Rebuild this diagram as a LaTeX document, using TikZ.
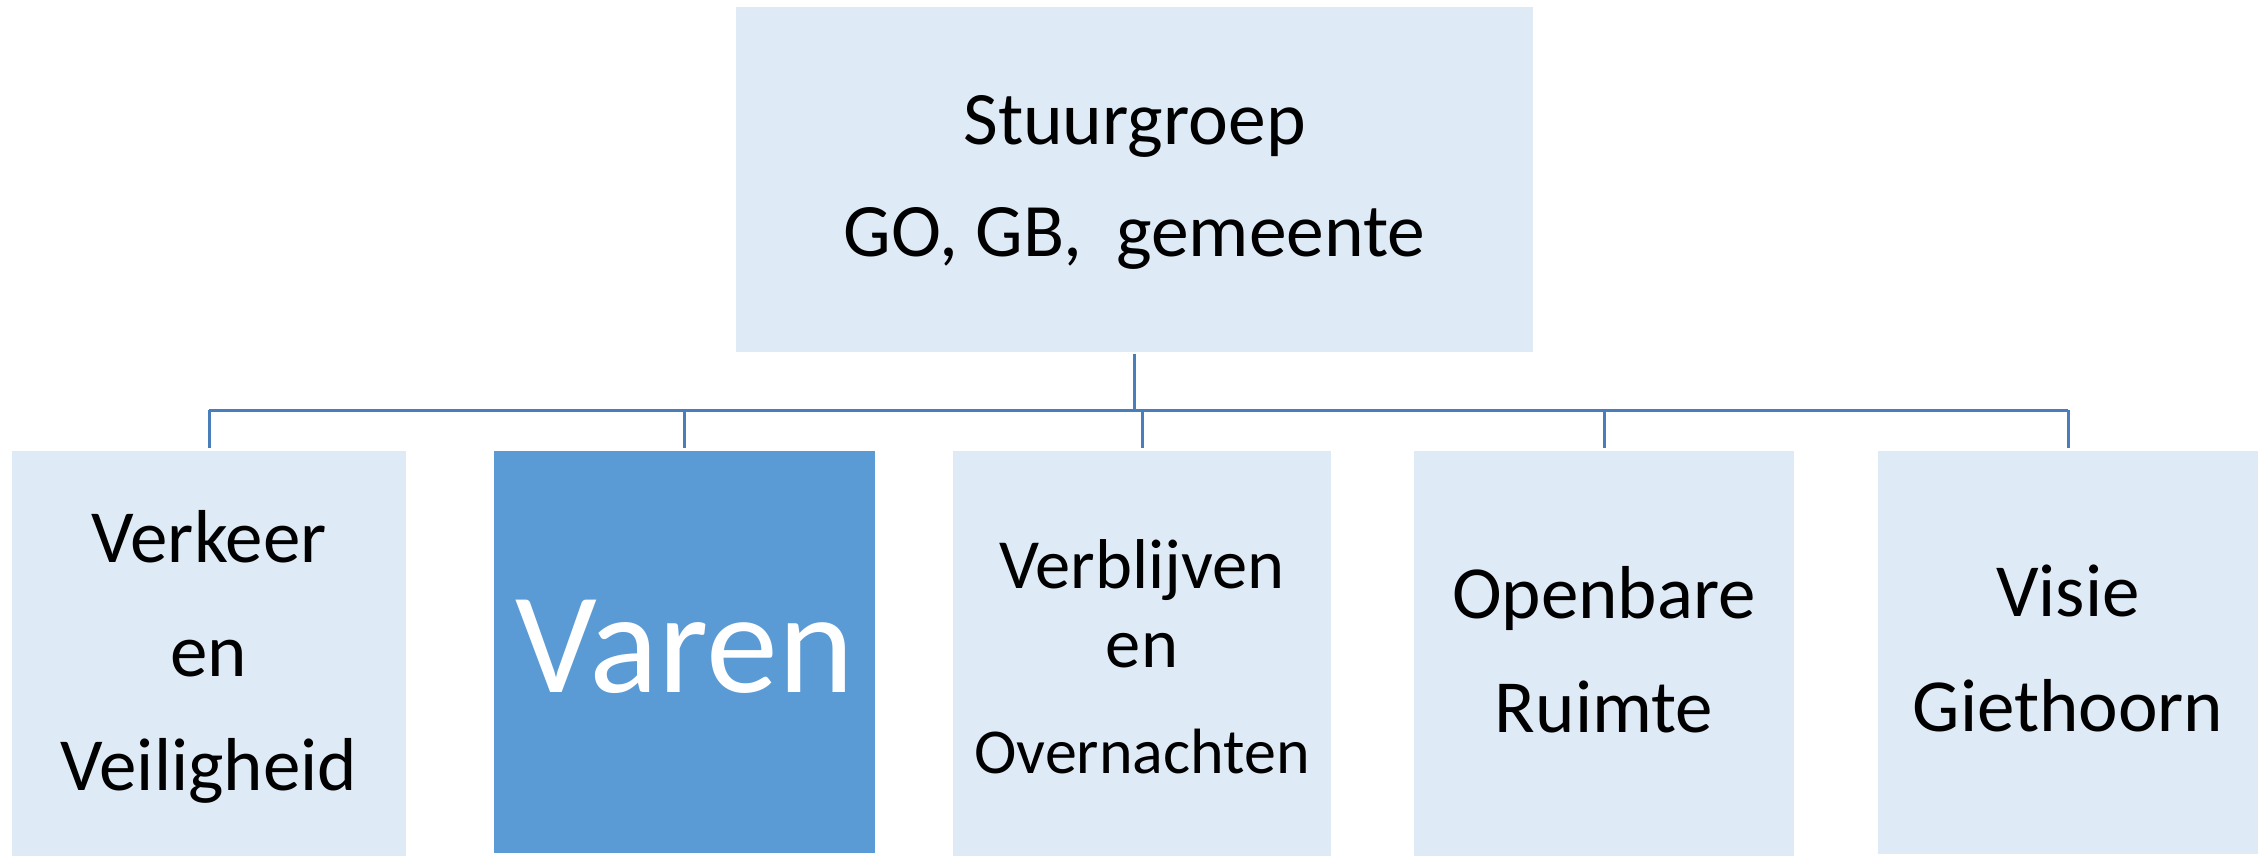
\documentclass[tikz,border=0pt]{standalone}
\usepackage{fontspec}
\setmainfont{Carlito}
\definecolor{lightbox}{HTML}{DEEAF6}
\definecolor{darkbox}{HTML}{5B9BD5}
\definecolor{connline}{HTML}{4A7EBB}
\tikzset{
  box/.style={rectangle, draw=none, inner sep=0pt, outer sep=0pt},
  lightfill/.style={box, fill=lightbox},
  darkfill/.style={box, fill=darkbox},
  conn/.style={draw=connline, line width=3pt},
  lbl/.style={anchor=base, inner sep=0pt, font=\fontsize{#1}{#1}\selectfont},
}
\begin{document}
\begin{tikzpicture}[x=1pt,y=-1pt]
\useasboundingbox (0,0) rectangle (2267,858);
% boxes
\node[lightfill, minimum width=797pt, minimum height=345pt] (top) at (1134.5,179.5) {};
\node[lightfill, minimum width=394pt, minimum height=405pt] (b1) at (209,653.5) {};
\node[darkfill,  minimum width=381pt, minimum height=402pt] (b2) at (684.5,652) {};
\node[lightfill, minimum width=378pt, minimum height=405pt] (b3) at (1142,653.5) {};
\node[lightfill, minimum width=380pt, minimum height=405pt] (b4) at (1604,653.5) {};
\node[lightfill, minimum width=380pt, minimum height=403pt] (b5) at (2068,652.5) {};
% texts
\node[lbl=75.5] (t0a) at (1134.5,145) {Stuurgroep};
\node[lbl=75.5] (t0b) at (1134.5,257) {GO, GB,\ \ gemeente};
\node[lbl=75] (t1a) at (209,562) {Verkeer};
\node[lbl=75] (t1b) at (209,676) {en};
\node[lbl=75] (t1c) at (209,790) {Veiligheid};
\node[lbl=144, text=white] (t2a) at (684.5,692) {Varen};
\node[lbl=70.5] (t3a) at (1142,588) {Verblijven};
\node[lbl=70.5] (t3b) at (1142,667) {en};
\node[lbl=64] (t3c) at (1142,773) {Overnachten};
\node[lbl=75] (t4a) at (1604,618) {Openbare};
\node[lbl=75] (t4b) at (1604,732) {Ruimte};
\node[lbl=75] (t5a) at (2068,616) {Visie};
\node[lbl=75] (t5b) at (2068,731) {Giethoorn};
% connectors
\coordinate (bus) at (0,410);
\draw[conn, shorten <=2pt] (top.south) -- (top.south |- bus);
\draw[conn] (b1.north |- bus) -- (b5.north |- bus);
\foreach \b in {b1,b2,b3,b4,b5}{
  \draw[conn, shorten >=3pt] (\b.north |- bus) -- (\b.north);
}
\end{tikzpicture}
\end{document}
